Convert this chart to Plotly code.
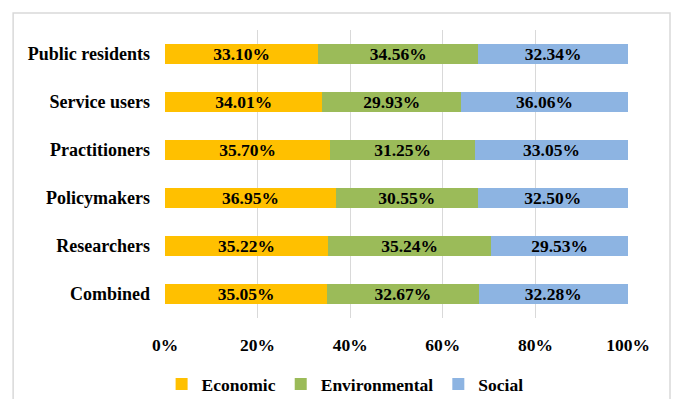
import plotly.graph_objects as go

# Stakeholder groups, listed bottom to top
groups = ["Combined", "Researchers", "Policymakers", "Practitioners",
          "Service users", "Public residents"]
economic = [35.05, 35.22, 36.95, 35.70, 34.01, 33.10]
environmental = [32.67, 35.24, 30.55, 31.25, 29.93, 34.56]
social = [32.28, 29.53, 32.50, 33.05, 36.06, 32.34]
x_ticks = [0, 20, 40, 60, 80, 100]

series = [
    ("Economic", economic, "#FFC000"),
    ("Environmental", environmental, "#9BBB59"),
    ("Social", social, "#8DB4E2"),
]

FONT = "Liberation Serif"

fig = go.Figure()
for name, vals, color in series:
    fig.add_trace(go.Bar(
        y=groups, x=vals, name=f"<b>{name}</b>", orientation="h",
        marker=dict(color=color, line=dict(width=0)),
        text=[f"<b>{v:.2f}%</b>" for v in vals],
        textposition="inside", insidetextanchor="middle",
        textfont=dict(family=FONT, size=17.5, color="black"),
        constraintext="none",
    ))

fig.update_layout(
    width=674, height=399,
    barmode="stack", bargap=0.6,
    plot_bgcolor="white", paper_bgcolor="white",
    margin=dict(l=165, r=46, t=30, b=81, autoexpand=False),
    font=dict(family=FONT, size=18, color="black"),
    showlegend=True,
    legend=dict(orientation="h", x=0.389, xanchor="center", y=-0.23, yanchor="middle",
                font=dict(family=FONT, size=17.5, color="black"),
                itemwidth=30, traceorder="normal"),
)

fig.update_xaxes(
    range=[0, 100], tickvals=x_ticks, ticktext=[f"<b>{t}%</b>" for t in x_ticks],
    showgrid=True, gridcolor="#D9D9D9", gridwidth=1,
    zeroline=False, showline=False, ticks="",
    ticklabelstandoff=14,
    tickfont=dict(family=FONT, size=17.5, color="black"),
    automargin=False,
)
fig.update_yaxes(
    tickvals=groups, ticktext=[f"<b>{g}</b>" for g in groups],
    showgrid=False, zeroline=False, showline=False, ticks="",
    ticklabelstandoff=14,
    tickfont=dict(family=FONT, size=18, color="black"),
    automargin=False,
)

# Light frame around the whole chart
fig.add_shape(type="rect", xref="paper", yref="paper",
              x0=-0.328, x1=1.0907, y0=-0.35, y1=1.059,
              line=dict(color="#D9D9D9", width=1.5), fillcolor="rgba(0,0,0,0)",
              layer="below")

fig.write_html("out.html")
